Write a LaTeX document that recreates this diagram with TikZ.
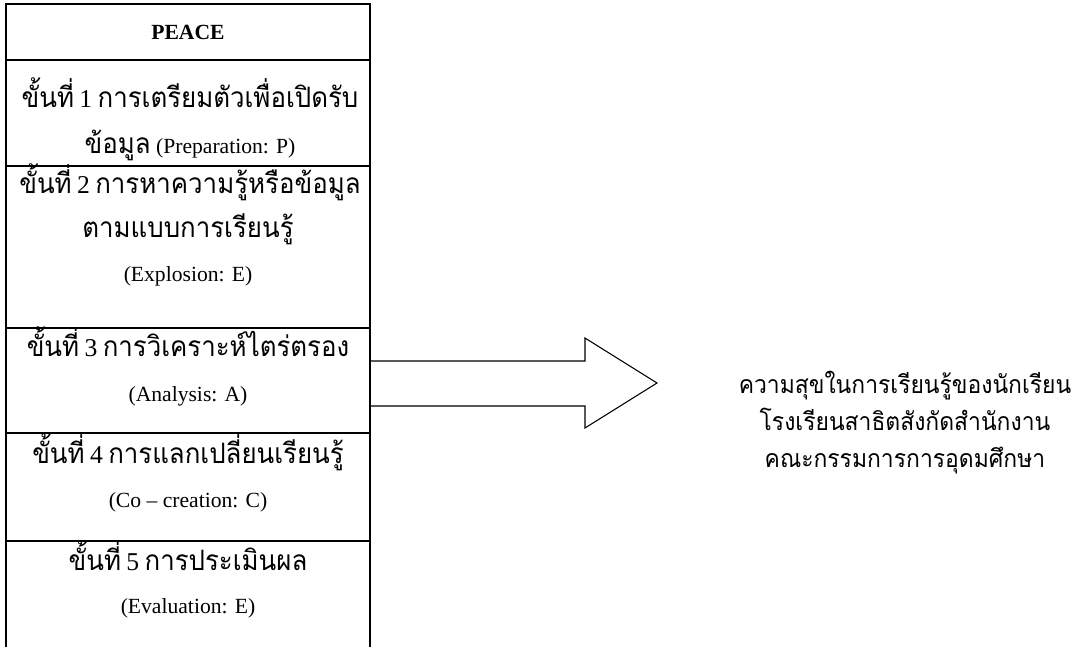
\documentclass[tikz,border=0pt]{standalone}
\usepackage{fontspec}
\setmainfont{Liberation Serif}
\newfontfamily\thaifont[Script=Thai,Scale=1.3,FakeStretch=0.92]{Loma}
\newcommand{\thai}[1]{{\thaifont #1}}
\newcommand{\stepno}[1]{{\fontsize{14.6}{14}\selectfont #1}}

\tikzset{
  rowline/.style={line width=1.1pt},
  steptext/.style={anchor=base, inner sep=0pt, font=\fontsize{12.3}{14}\selectfont},
  goaltext/.style={steptext, font=\fontsize{10.9}{14}\selectfont},
  bigarrow/.style={line width=0.6pt, line join=miter, fill=white},
}

\begin{document}
\begin{tikzpicture}[x=0.02cm, y=-0.02cm]
    \useasboundingbox (0,0) rectangle (1083,647);

    % Arrow
    \draw[bigarrow] (370,361) -- (585,361) -- (585,338) -- (657,383)
      -- (585,428) -- (585,406) -- (370,406) -- cycle;

    % Table
    \draw[rowline] (6,647) -- (6,4) -- (370,4) -- (370,647);
    \foreach \y in {60,166,328,433,541}{
      \draw[rowline] (6,\y) -- (370,\y);
    }

    % Steps
    \node[steptext] (peace) at (188,39) {\textbf{PEACE}};
    \node[steptext] (s1a) at (190,107) {\thai{ขั้นที่} \stepno{1} \thai{การเตรียมตัวเพื่อเปิดรับ}};
    \node[steptext] (s1b) at (190,153) {\thai{ข้อมูล} (Preparation: P)};
    \node[steptext] (s2a) at (190,193) {\thai{ขั้นที่} \stepno{2} \thai{การหาความรู้หรือข้อมูล}};
    \node[steptext] (s2b) at (188,237) {\thai{ตามแบบการเรียนรู้}};
    \node[steptext] (s2c) at (188,281) {(Explosion: E)};
    \node[steptext] (s3a) at (188,356) {\thai{ขั้นที่} \stepno{3} \thai{การวิเคราะห์ไตร่ตรอง}};
    \node[steptext] (s3b) at (188,401) {(Analysis: A)};
    \node[steptext] (s4a) at (188,463) {\thai{ขั้นที่} \stepno{4} \thai{การแลกเปลี่ยนเรียนรู้}};
    \node[steptext] (s4b) at (188,507) {(Co -- creation: C)};
    \node[steptext] (s5a) at (188,570) {\thai{ขั้นที่} \stepno{5} \thai{การประเมินผล}};
    \node[steptext] (s5b) at (188,613) {(Evaluation: E)};

    % Result
    \node[goaltext] (goala) at (905,393) {\thai{ความสุขในการเรียนรู้ของนักเรียน}};
    \node[goaltext] (goalb) at (905,430) {\thai{โรงเรียนสาธิตสังกัดสำนักงาน}};
    \node[goaltext] (goalc) at (905,467) {\thai{คณะกรรมการการอุดมศึกษา}};
\end{tikzpicture}
\end{document}
